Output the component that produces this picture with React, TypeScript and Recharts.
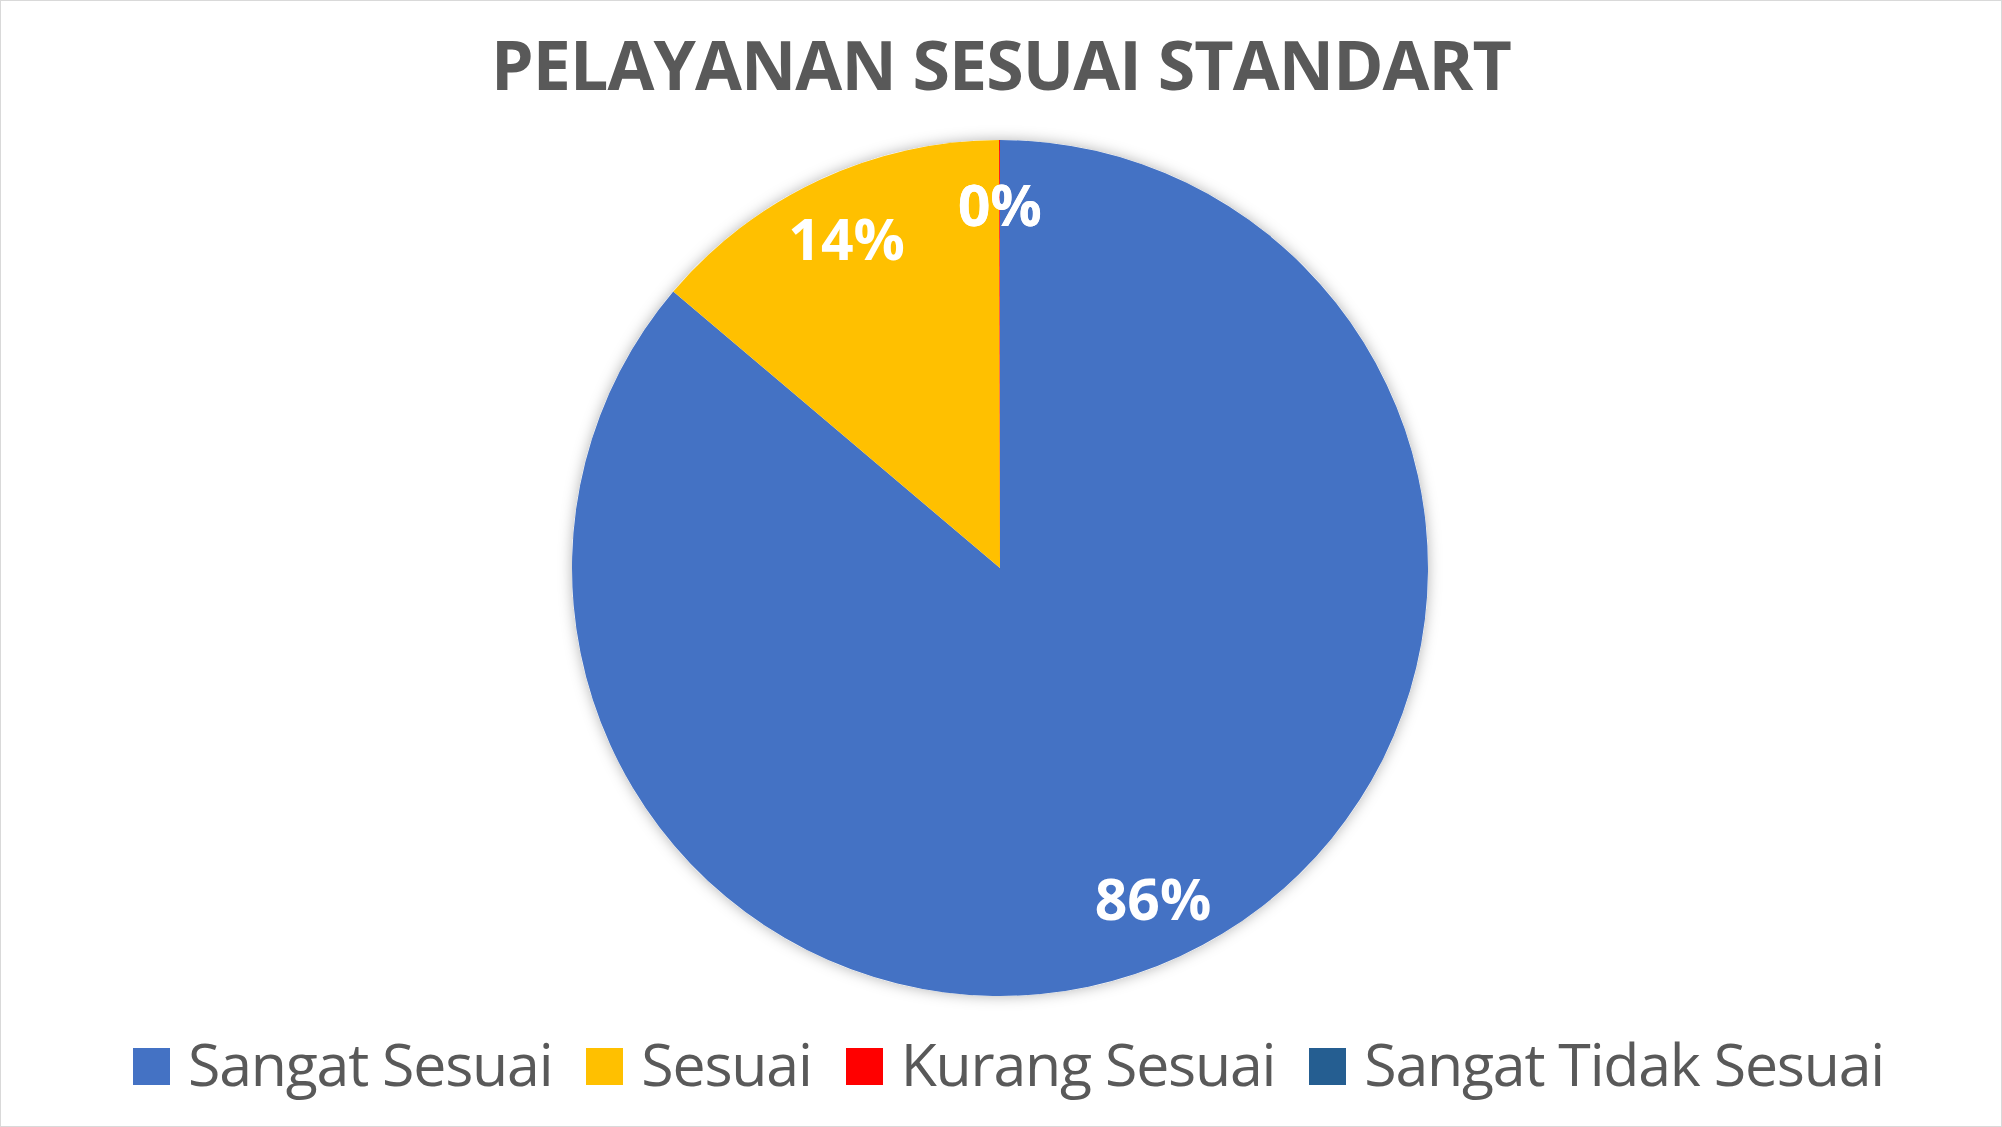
import React from "react";
import { PieChart, Pie, Cell, Legend } from "recharts";

const categories = ["Sangat Sesuai", "Sesuai", "Kurang Sesuai", "Sangat Tidak Sesuai"];
const values = [250, 40, 0.1, 0];
const colors = ["#4472C4", "#FFC000", "#FF0000", "#255E91"];

const data = categories.map((name, i) => ({ name, value: values[i] }));

const W = 2002;
const H = 1127;
const FONT = "'Open Sans', 'Noto Sans', sans-serif";
const RADIAN = Math.PI / 180;

const renderLabel = (props: any) => {
  const { cx, cy, midAngle, outerRadius, percent } = props;
  const r = outerRadius * 0.85;
  const x = cx + r * Math.cos(-midAngle * RADIAN);
  const y = cy + r * Math.sin(-midAngle * RADIAN);
  return (
    <text
      x={x}
      y={y}
      fill="#fff"
      textAnchor="middle"
      dominantBaseline="central"
      fontSize={57}
      fontWeight={700}
      fontFamily={FONT}
    >
      {`${Math.round(percent * 100)}%`}
    </text>
  );
};

const renderLegend = (props: any) => {
  const items = (props.payload || [])
    .filter((p: any) => categories.includes(p.value))
    .sort((a: any, b: any) => categories.indexOf(a.value) - categories.indexOf(b.value));
  return (
    <div
      style={{
        display: "flex",
        justifyContent: "flex-start",
        alignItems: "center",
        paddingLeft: 133,
        width: W,
        boxSizing: "border-box",
        whiteSpace: "nowrap",
        fontFamily: FONT,
        fontSize: 59,
        letterSpacing: -1.2,
        color: "#595959",
        lineHeight: 1,
      }}
    >
      {items.map((entry: any, i: number) => (
        <div
          key={entry.value}
          style={{ display: "flex", alignItems: "center", marginLeft: i === 0 ? 0 : 34 }}
        >
          <span
            style={{
              width: 37,
              height: 37,
              background: colors[categories.indexOf(entry.value)],
              marginRight: 18,
              display: "inline-block",
              flexShrink: 0,
              position: "relative",
              top: 3,
            }}
          />
          <span>{entry.value}</span>
        </div>
      ))}
    </div>
  );
};

export default function App() {
  return (
    <div
      style={{
        position: "absolute",
        left: 0,
        top: 0,
        width: W,
        height: H,
        background: "#fff",
        border: "1px solid #d9d9d9",
        boxSizing: "border-box",
        overflow: "hidden",
      }}
    >
      <style>{`.pie-shadow path { filter: url(#pieShadow); }`}</style>
      <svg width={0} height={0} style={{ position: "absolute" }}>
        <defs>
          <filter id="pieShadow" x="-20%" y="-20%" width="140%" height="140%">
            <feDropShadow dx="0" dy="0" stdDeviation="7" floodColor="#000" floodOpacity="0.3" />
          </filter>
        </defs>
      </svg>
      <div
        style={{
          position: "absolute",
          left: 0,
          top: 29,
          width: W - 2,
          textAlign: "center",
          fontFamily: FONT,
          fontWeight: 700,
          fontSize: 68,
          letterSpacing: -0.9,
          lineHeight: 1,
          color: "#595959",
        }}
      >
        PELAYANAN SESUAI STANDART
      </div>
      <div style={{ position: "absolute", left: -1, top: -1 }}>
        <PieChart width={W} height={H} margin={{ top: 0, right: 0, bottom: 0, left: 0 }}>
          <Pie
            className="pie-shadow"
            data={[{ name: "shadow", value: 1 }]}
            dataKey="value"
            cx={1000}
            cy={568}
            outerRadius={428}
            fill="#fff"
            stroke="none"
            legendType="none"
            isAnimationActive={false}
          />
          <Pie
            data={data}
            dataKey="value"
            nameKey="name"
            cx={1000}
            cy={568}
            outerRadius={428}
            startAngle={90}
            endAngle={-270}
            stroke="none"
            label={renderLabel}
            labelLine={false}
            isAnimationActive={false}
          >
            {data.map((entry, i) => (
              <Cell key={entry.name} fill={colors[i]} />
            ))}
          </Pie>
          <Legend
            content={renderLegend}
            wrapperStyle={{ top: 1034, left: 0, width: W }}
          />
        </PieChart>
      </div>
    </div>
  );
}
